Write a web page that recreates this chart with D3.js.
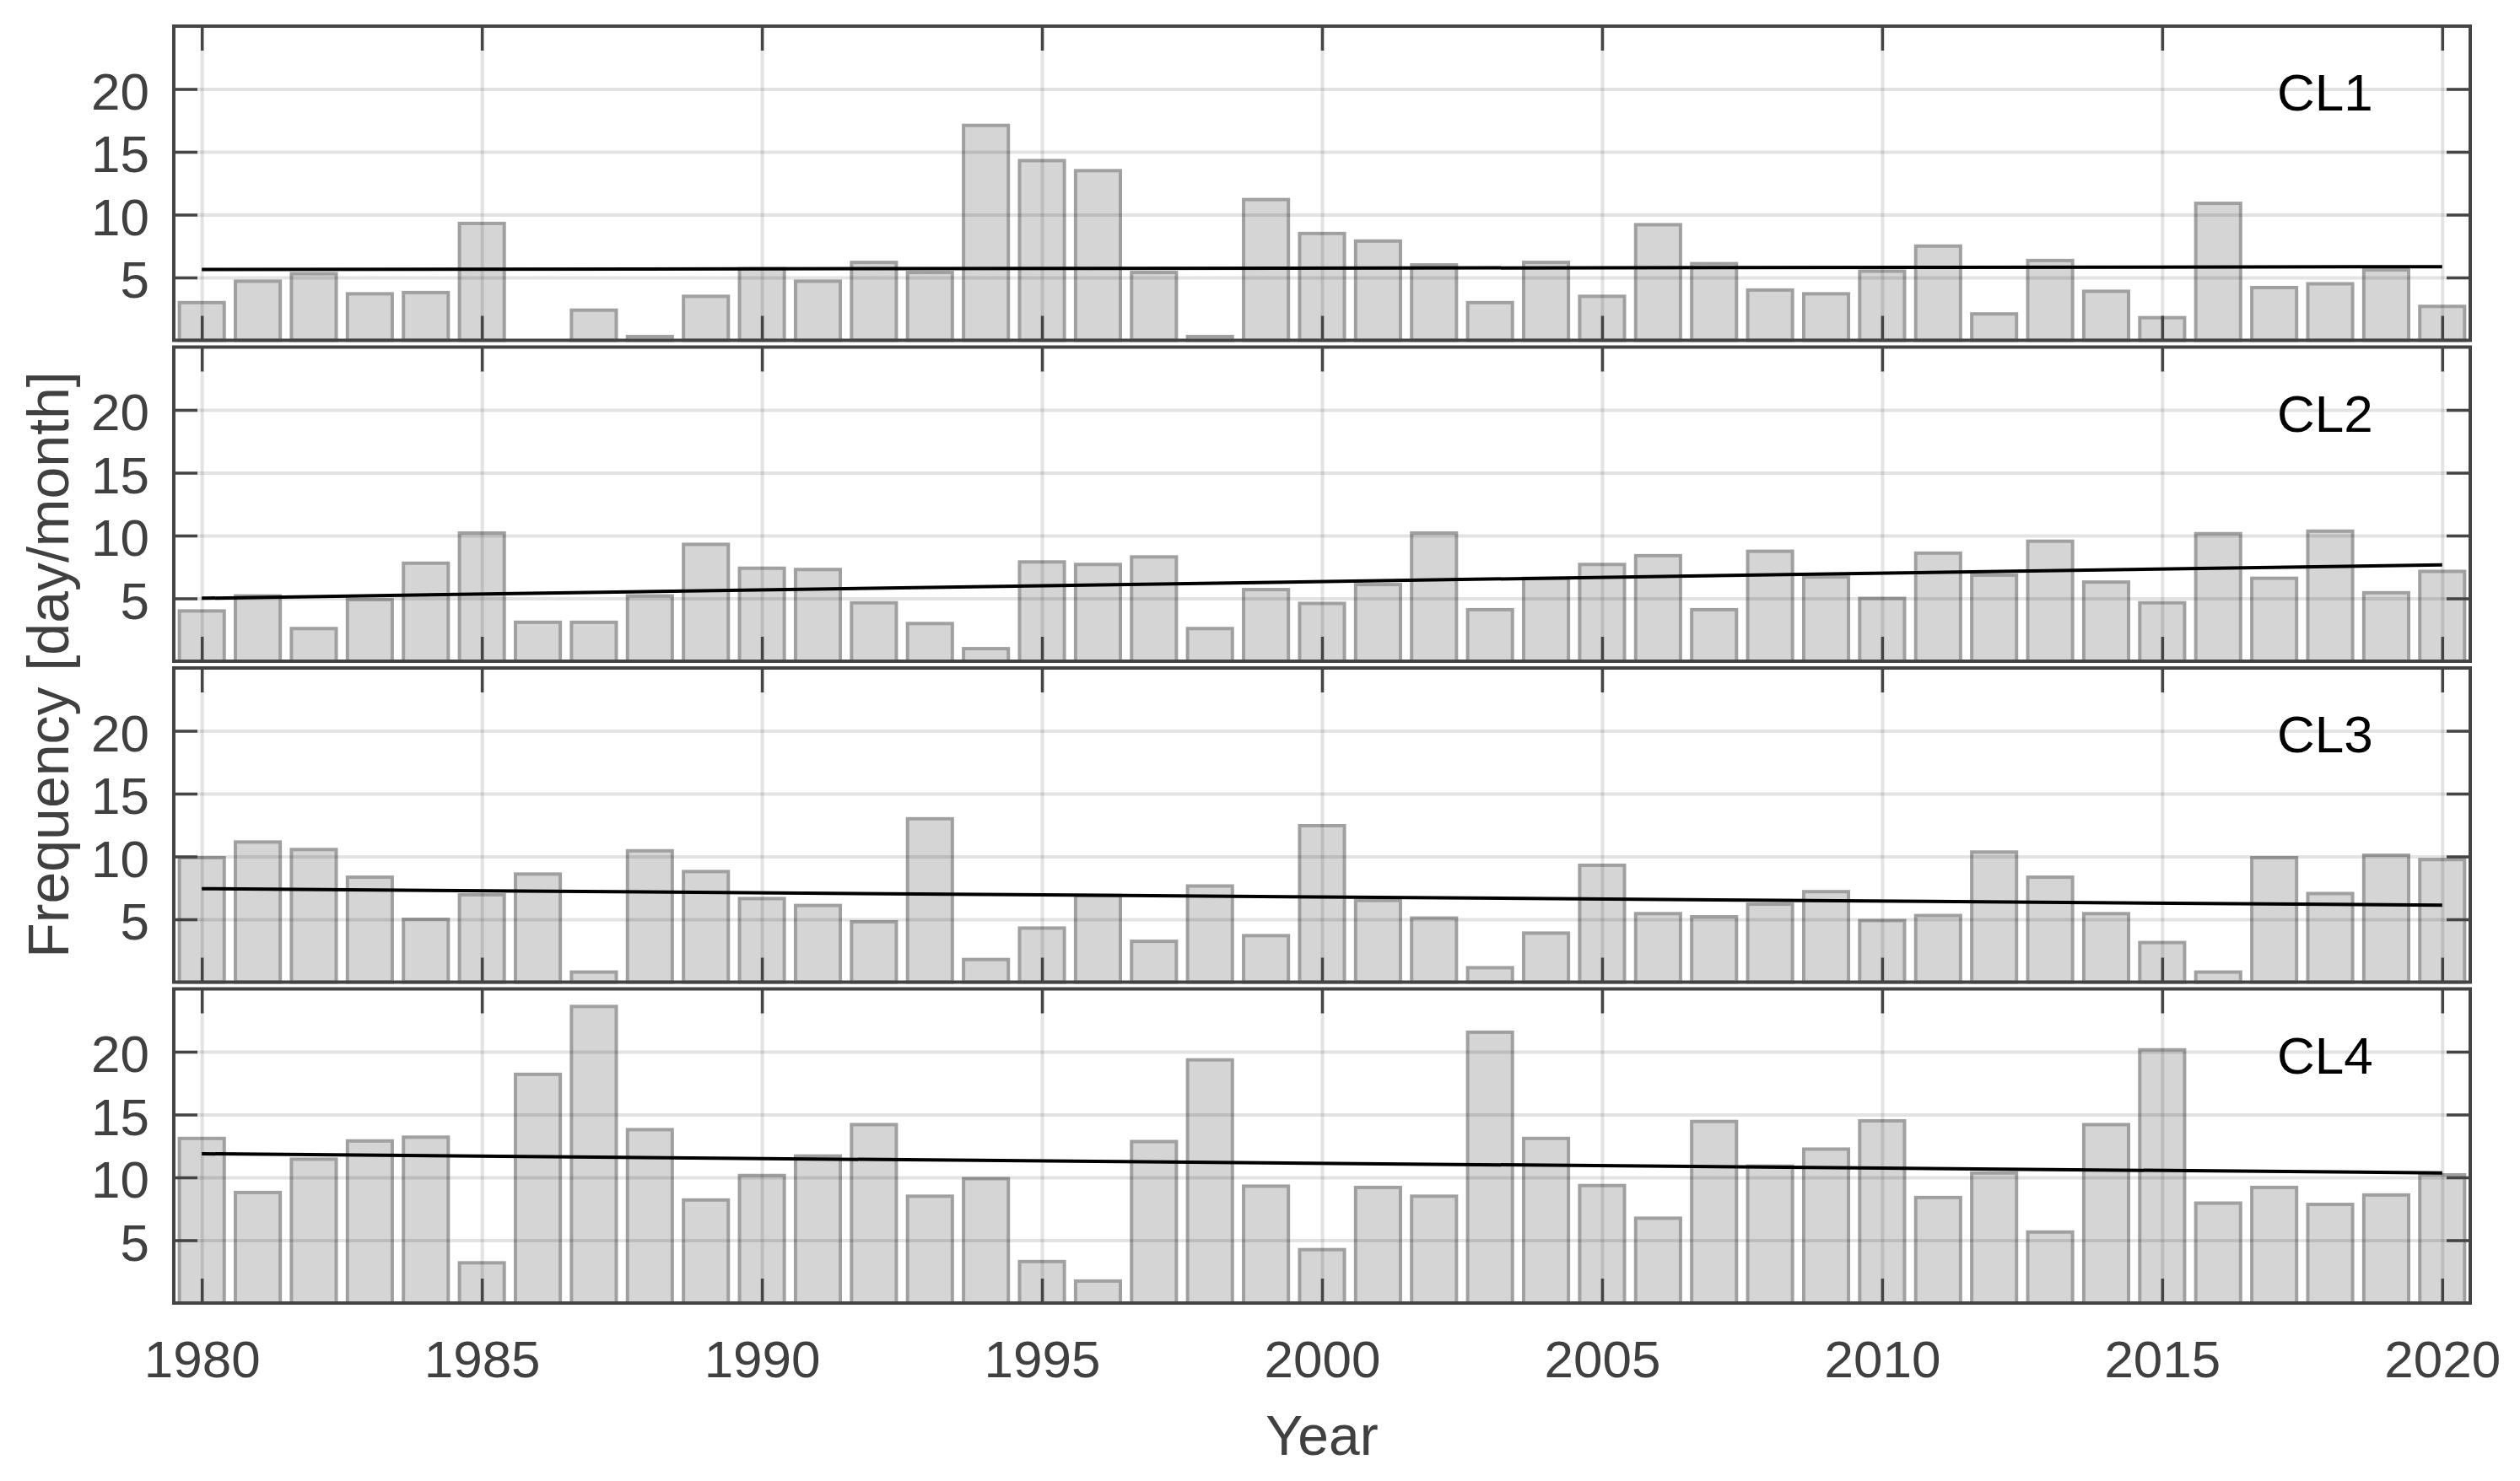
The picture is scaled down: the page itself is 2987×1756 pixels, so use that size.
<!DOCTYPE html>
<html><head><meta charset="utf-8">
<script src="https://cdn.jsdelivr.net/npm/d3@7"></script>
<style>body{margin:0;background:#fff}</style>
</head><body>
<script>
// ---------- data ----------
const years = d3.range(1980, 2021);
const panelLabels = ["CL1", "CL2", "CL3", "CL4"];
const cl1 = [3.0, 4.7, 5.3, 3.7, 3.8, 9.3, 0, 2.4, 0.3, 3.5,
             5.7, 4.7, 6.2, 5.4, 17.1, 14.3, 13.5, 5.4, 0.3, 11.2,
             8.5, 7.9, 6.0, 3.0, 6.2, 3.5, 9.2, 6.1, 4.0, 3.7,
             5.5, 7.5, 2.1, 6.35, 3.9, 1.8, 10.9, 4.2, 4.5, 5.6,
             2.7];
const cl2 = [4.0, 5.2, 2.6, 4.9, 7.8, 10.2, 3.1, 3.1, 5.2, 9.3,
             7.4, 7.3, 4.65, 3.0, 1.0, 7.9, 7.7, 8.3, 2.6, 5.7,
             4.6, 6.1, 10.2, 4.1, 6.6, 7.7, 8.4, 4.1, 8.75, 6.7,
             5.0, 8.6, 6.85, 9.55, 6.3, 4.65, 10.15, 6.6, 10.35, 5.45,
             7.15];
const cl3 = [9.9, 11.15, 10.55, 8.35, 5.0, 6.95, 8.6, 0.8, 10.45, 8.8,
             6.65, 6.1, 4.8, 13.0, 1.8, 4.3, 6.9, 3.25, 7.65, 3.7,
             12.45, 6.5, 5.1, 1.15, 3.9, 9.3, 5.45, 5.2, 6.2, 7.2,
             4.9, 5.3, 10.35, 8.35, 5.45, 3.15, 0.8, 9.9, 7.05, 10.1,
             9.75];
const cl4 = [13.1, 8.8, 11.45, 12.9, 13.2, 3.2, 18.2, 23.6, 13.8, 8.2,
             10.15, 11.7, 14.2, 8.5, 9.9, 3.3, 1.75, 12.85, 19.35, 9.3,
             4.25, 9.2, 8.5, 21.55, 13.1, 9.35, 6.75, 14.45, 10.9, 12.25,
             14.5, 8.4, 10.35, 5.65, 14.2, 20.15, 7.95, 9.2, 7.85, 8.6,
             10.2];
const trendYears = [1980, 2020];
const trendStart = [5.63, 5.01, 7.44, 11.88];
const trendEnd = [5.86, 7.67, 6.12, 10.36];
const xTickValues = [1980, 1985, 1990, 1995, 2000, 2005, 2010, 2015, 2020];
const yTickValues = [5, 10, 15, 20];
const xLabel = "Year";
const yLabel = "Frequency [day/month]";

// ---------- layout ----------
const W = 2987, H = 1756;
const left = 206, right = 2928, pw = right - left, ph = 372.5;
const tops = [31, 411.5, 792, 1172.5];
const font = "'Liberation Sans', Arial, Helvetica, sans-serif";
const frameCol = "#444444", textCol = "#404040";

const svg = d3.select("body").append("svg")
  .attr("width", W).attr("height", H)
  .style("background", "#fff");

const x = d3.scaleLinear().domain([1979.5, 2020.5]).range([0, pw]);
const y = d3.scaleLinear().domain([0, 25]).range([ph, 0]);
const bw = (x(1981) - x(1980)) * 0.8;
const series = [cl1, cl2, cl3, cl4];

series.forEach((vals, i) => {
  const g = svg.append("g").attr("transform", `translate(${left},${tops[i]})`);
  const data = vals.map((v, j) => ({ year: years[j], v }));

  // bars
  g.append("g").selectAll("rect").data(data).join("rect")
    .attr("x", d => x(d.year) - bw / 2)
    .attr("y", d => y(d.v))
    .attr("width", bw)
    .attr("height", d => y(0) - y(d.v))
    .attr("fill", "#d4d5d4")
    .attr("stroke", "#a0a0a0")
    .attr("stroke-width", 4);

  // grid (on top of bars)
  const gy = g.append("g")
    .call(d3.axisLeft(y).tickValues(yTickValues).tickSize(-pw).tickFormat(""));
  gy.select(".domain").remove();
  gy.selectAll("line").attr("stroke", "#000").attr("stroke-opacity", 0.11).attr("stroke-width", 4);
  const gx = g.append("g").attr("transform", `translate(0,${ph})`)
    .call(d3.axisBottom(x).tickValues(xTickValues).tickSize(-ph).tickFormat(""));
  gx.select(".domain").remove();
  gx.selectAll("line").attr("stroke", "#000").attr("stroke-opacity", 0.11).attr("stroke-width", 4);

  // trend line
  const line = d3.line().x(d => x(d[0])).y(d => y(d[1]));
  g.append("path")
    .datum([[trendYears[0], trendStart[i]], [trendYears[1], trendEnd[i]]])
    .attr("d", line)
    .attr("fill", "none").attr("stroke", "#000").attr("stroke-width", 4);

  // axes ticks
  const styleAxis = sel => {
    sel.select(".domain").remove();
    sel.selectAll(".tick line").attr("stroke", frameCol).attr("stroke-width", 3.5);
    sel.attr("font-family", font).attr("font-size", 62);
    sel.selectAll(".tick text").attr("fill", textCol);
  };
  const ax = g.append("g")
    .call(d3.axisLeft(y).tickValues(yTickValues).tickSize(-28).tickPadding(29).tickFormat(d3.format("d")))
    .call(styleAxis);
  ax.selectAll(".tick text").attr("dy", "0.38em");
  g.append("g").attr("transform", `translate(${pw},0)`)
    .call(d3.axisRight(y).tickValues(yTickValues).tickSize(-28).tickFormat(""))
    .call(styleAxis);
  g.append("g")
    .call(d3.axisTop(x).tickValues(xTickValues).tickSize(-29).tickFormat(""))
    .call(styleAxis);
  g.append("g").attr("transform", `translate(0,${ph})`)
    .call(d3.axisBottom(x).tickValues(xTickValues).tickSize(-29).tickPadding(44)
      .tickFormat(i === 3 ? d3.format("d") : ""))
    .call(styleAxis);

  // frame
  g.append("rect")
    .attr("x", 0).attr("y", 0).attr("width", pw).attr("height", ph)
    .attr("fill", "none").attr("stroke", frameCol).attr("stroke-width", 4);

  // panel label
  g.append("text")
    .attr("x", 2699 - left).attr("y", 100)
    .attr("font-family", font).attr("font-size", 62)
    .attr("fill", "#000")
    .text(panelLabels[i]);
});

// axis labels
svg.append("text")
  .attr("x", left + pw / 2).attr("y", 1725)
  .attr("text-anchor", "middle")
  .attr("font-family", font).attr("font-size", 66)
  .attr("fill", textCol)
  .text(xLabel);

svg.append("text")
  .attr("transform", `translate(81,${(tops[0] + tops[3] + ph) / 2}) rotate(-90)`)
  .attr("text-anchor", "middle")
  .attr("font-family", font).attr("font-size", 68)
  .attr("fill", textCol)
  .text(yLabel);
</script>
</body></html>
